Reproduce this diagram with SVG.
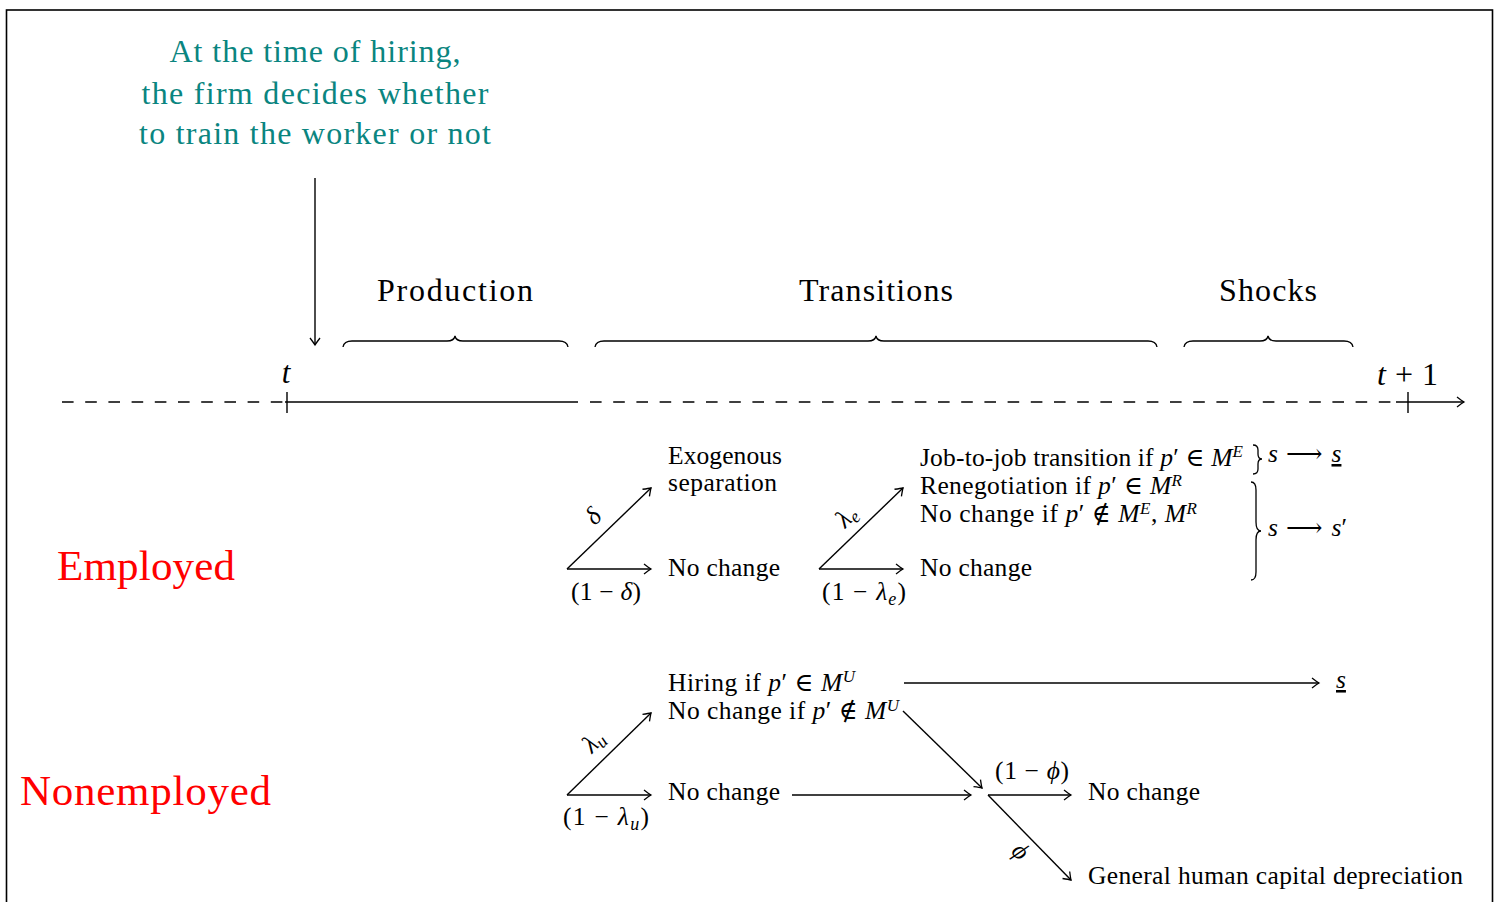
<svg xmlns="http://www.w3.org/2000/svg" width="1497" height="902" viewBox="0 0 1497 902">
<defs>
<style>
text{font-family:"Liberation Serif","DejaVu Serif",serif;fill:#000}
.b{font-size:25.5px}
.m{font-style:italic}
.lab{font-size:32px}
.teal{fill:#0a8580;font-size:32px}
.red{fill:#ff0000;font-size:43px}
.ln{stroke:#000;stroke-width:1.4;fill:none}
.br{stroke:#000;stroke-width:1.3;fill:none}
.dash{stroke:#000;stroke-width:1.4;fill:none;stroke-dasharray:11.6 11.6}
.sup{font-size:17px}
.sym{font-family:"DejaVu Serif","Liberation Serif",serif}
</style>
<marker id="ar" markerWidth="14" markerHeight="14" refX="0" refY="0" viewBox="-9 -7 11 14" orient="auto" markerUnits="userSpaceOnUse">
<path d="M-7,-5 Q-2,-1.2 0,0 Q-2,1.2 -7,5" fill="none" stroke="#000" stroke-width="1.3"/>
</marker>
</defs>
<rect x="6.5" y="10" width="1486" height="905" fill="#fff" stroke="#000" stroke-width="1.6"/>

<g id="note">
<text class="teal" x="315" y="62" text-anchor="middle" textLength="291" lengthAdjust="spacing">At the time of hiring,</text>
<text class="teal" x="315" y="104" text-anchor="middle" textLength="347" lengthAdjust="spacing">the firm decides whether</text>
<text class="teal" x="315" y="144" text-anchor="middle" textLength="352" lengthAdjust="spacing">to train the worker or not</text>
</g>

<g id="timeline">
<path class="dash" d="M62,402 H285"/>
<path class="ln" d="M285,402 H578"/>
<path class="dash" d="M590,402 H1398"/>
<path class="ln" d="M1396,402 H1464" marker-end="url(#ar)"/>
<path class="ln" d="M287,392 V413 M1408,392 V413"/>
<text class="m" x="286" y="383" font-size="31" text-anchor="middle">t</text>
<text x="1377" y="385" font-size="32"><tspan class="m">t</tspan><tspan dx="9">+</tspan><tspan dx="9">1</tspan></text>
</g>

<g id="phases">
<path class="br" d="M343,347 Q344,341 352,341 L447,341 Q454,341 455,336 Q456,341 463,341 L559,341 Q567,341 568,347"/>
<text class="lab" x="455" y="301" text-anchor="middle" textLength="156" lengthAdjust="spacing">Production</text>
<path class="br" d="M595,347 Q596,341 604,341 L868,341 Q875,341 876,336 Q877,341 884,341 L1148,341 Q1156,341 1157,347"/>
<text class="lab" x="876" y="301" text-anchor="middle" textLength="154" lengthAdjust="spacing">Transitions</text>
<path class="br" d="M1184,347 Q1185,341 1193,341 L1260,341 Q1267,341 1268,336 Q1269,341 1276,341 L1344,341 Q1352,341 1353,347"/>
<text class="lab" x="1268" y="301" text-anchor="middle" textLength="98" lengthAdjust="spacing">Shocks</text>
</g>

<g id="states">
<text class="red" x="57" y="580" textLength="178" lengthAdjust="spacing">Employed</text>
<text class="red" x="20" y="805" textLength="251" lengthAdjust="spacing">Nonemployed</text>
</g>

<g id="connectors">
<path class="ln" d="M567,569 L651,488" marker-end="url(#ar)"/>
<path class="ln" d="M567,569 H651" marker-end="url(#ar)"/>
<path class="ln" d="M819,569 L903,488" marker-end="url(#ar)"/>
<path class="ln" d="M819,569 H903" marker-end="url(#ar)"/>
<path class="ln" d="M567,795 L651,713" marker-end="url(#ar)"/>
<path class="ln" d="M567,795 H651" marker-end="url(#ar)"/>
<path class="ln" d="M904,683 H1319" marker-end="url(#ar)"/>
<path class="ln" d="M903,711 L982,788" marker-end="url(#ar)"/>
<path class="ln" d="M792,795 H971" marker-end="url(#ar)"/>
<path class="ln" d="M988,795 H1071" marker-end="url(#ar)"/>
<path class="ln" d="M988,795 L1071,880" marker-end="url(#ar)"/>
<path class="ln" d="M315,178 V345" marker-end="url(#ar)"/>
</g>

<g id="employed-separation">
<text class="b m" font-size="24" transform="translate(599,522) rotate(-45)" text-anchor="middle">δ</text>
<text class="b" font-size="24" x="606" y="600" text-anchor="middle" textLength="70" lengthAdjust="spacing">(1 − <tspan class="m">δ</tspan>)</text>
<text class="b" x="668" y="464" textLength="114" lengthAdjust="spacing">Exogenous</text>
<text class="b" x="668" y="491" textLength="109" lengthAdjust="spacing">separation</text>
<text class="b" x="668" y="576" textLength="112" lengthAdjust="spacing">No change</text>
</g>

<g id="employed-transitions">
<text class="b m" font-size="24" transform="translate(852,522) rotate(-45)" text-anchor="middle">λ<tspan font-size="18" dy="4">e</tspan></text>
<text class="b" font-size="24" x="864" y="600" text-anchor="middle" textLength="84" lengthAdjust="spacing">(1 − <tspan class="m">λ</tspan><tspan class="m" font-size="18" dy="5">e</tspan><tspan dy="-5">)</tspan></text>
<text class="b" x="920" y="466" textLength="323" lengthAdjust="spacing">Job-to-job transition if <tspan class="m">p</tspan>′ <tspan class="sym">∈</tspan> <tspan class="m">M</tspan><tspan class="sup m" dy="-9">E</tspan></text>
<text class="b" x="920" y="494" textLength="262" lengthAdjust="spacing">Renegotiation if <tspan class="m">p</tspan>′ <tspan class="sym">∈</tspan> <tspan class="m">M</tspan><tspan class="sup m" dy="-8">R</tspan></text>
<text class="b" x="920" y="522" textLength="277" lengthAdjust="spacing">No change if <tspan class="m">p</tspan>′ <tspan class="sym">∉</tspan> <tspan class="m">M</tspan><tspan class="sup m" dy="-8">E</tspan><tspan dy="8">, </tspan><tspan class="m">M</tspan><tspan class="sup m" dy="-8">R</tspan></text>
<text class="b" x="920" y="576" textLength="112" lengthAdjust="spacing">No change</text>
</g>

<g id="shock-outcomes">
<path class="br" d="M1253,445 Q1258,445 1258,450 L1258,454 Q1258,459 1262,459 Q1258,459 1258,464 L1258,469 Q1258,474 1253,474"/>
<text class="b" x="1268" y="462"><tspan class="m">s</tspan><tspan class="sym" dx="8">⟶</tspan><tspan class="m" dx="9" text-decoration="underline">s</tspan></text>
<path class="br" d="M1251,482 Q1256,482 1256,490 L1256,522 Q1256,531 1261,531 Q1256,531 1256,540 L1256,572 Q1256,580 1251,580"/>
<text class="b" x="1268" y="536"><tspan class="m">s</tspan><tspan class="sym" dx="8">⟶</tspan><tspan class="m" dx="9">s</tspan>′</text>
<text class="b m" x="1336" y="688" text-decoration="underline">s</text>
</g>

<g id="nonemployed">
<text class="b m" font-size="24" transform="translate(599,747) rotate(-45)" text-anchor="middle">λ<tspan font-size="18" dy="4">u</tspan></text>
<text class="b" font-size="24" x="606" y="825" text-anchor="middle" textLength="86" lengthAdjust="spacing">(1 − <tspan class="m">λ</tspan><tspan class="m" font-size="18" dy="5">u</tspan><tspan dy="-5">)</tspan></text>
<text class="b" x="668" y="691" textLength="187" lengthAdjust="spacing">Hiring if <tspan class="m">p</tspan>′ <tspan class="sym">∈</tspan> <tspan class="m">M</tspan><tspan class="sup m" dy="-9">U</tspan></text>
<text class="b" x="668" y="719" textLength="231" lengthAdjust="spacing">No change if <tspan class="m">p</tspan>′ <tspan class="sym">∉</tspan> <tspan class="m">M</tspan><tspan class="sup m" dy="-8">U</tspan></text>
<text class="b" x="668" y="800" textLength="112" lengthAdjust="spacing">No change</text>
</g>

<g id="depreciation">
<text class="b" font-size="24" x="1032" y="779" text-anchor="middle" textLength="74" lengthAdjust="spacing">(1 − <tspan class="m">ϕ</tspan>)</text>
<text class="b m" font-size="24" transform="translate(1015,857) rotate(45)" text-anchor="middle">ϕ</text>
<text class="b" x="1088" y="800" textLength="112" lengthAdjust="spacing">No change</text>
<text class="b" x="1088" y="884" textLength="375" lengthAdjust="spacing">General human capital depreciation</text>
</g>
</svg>
